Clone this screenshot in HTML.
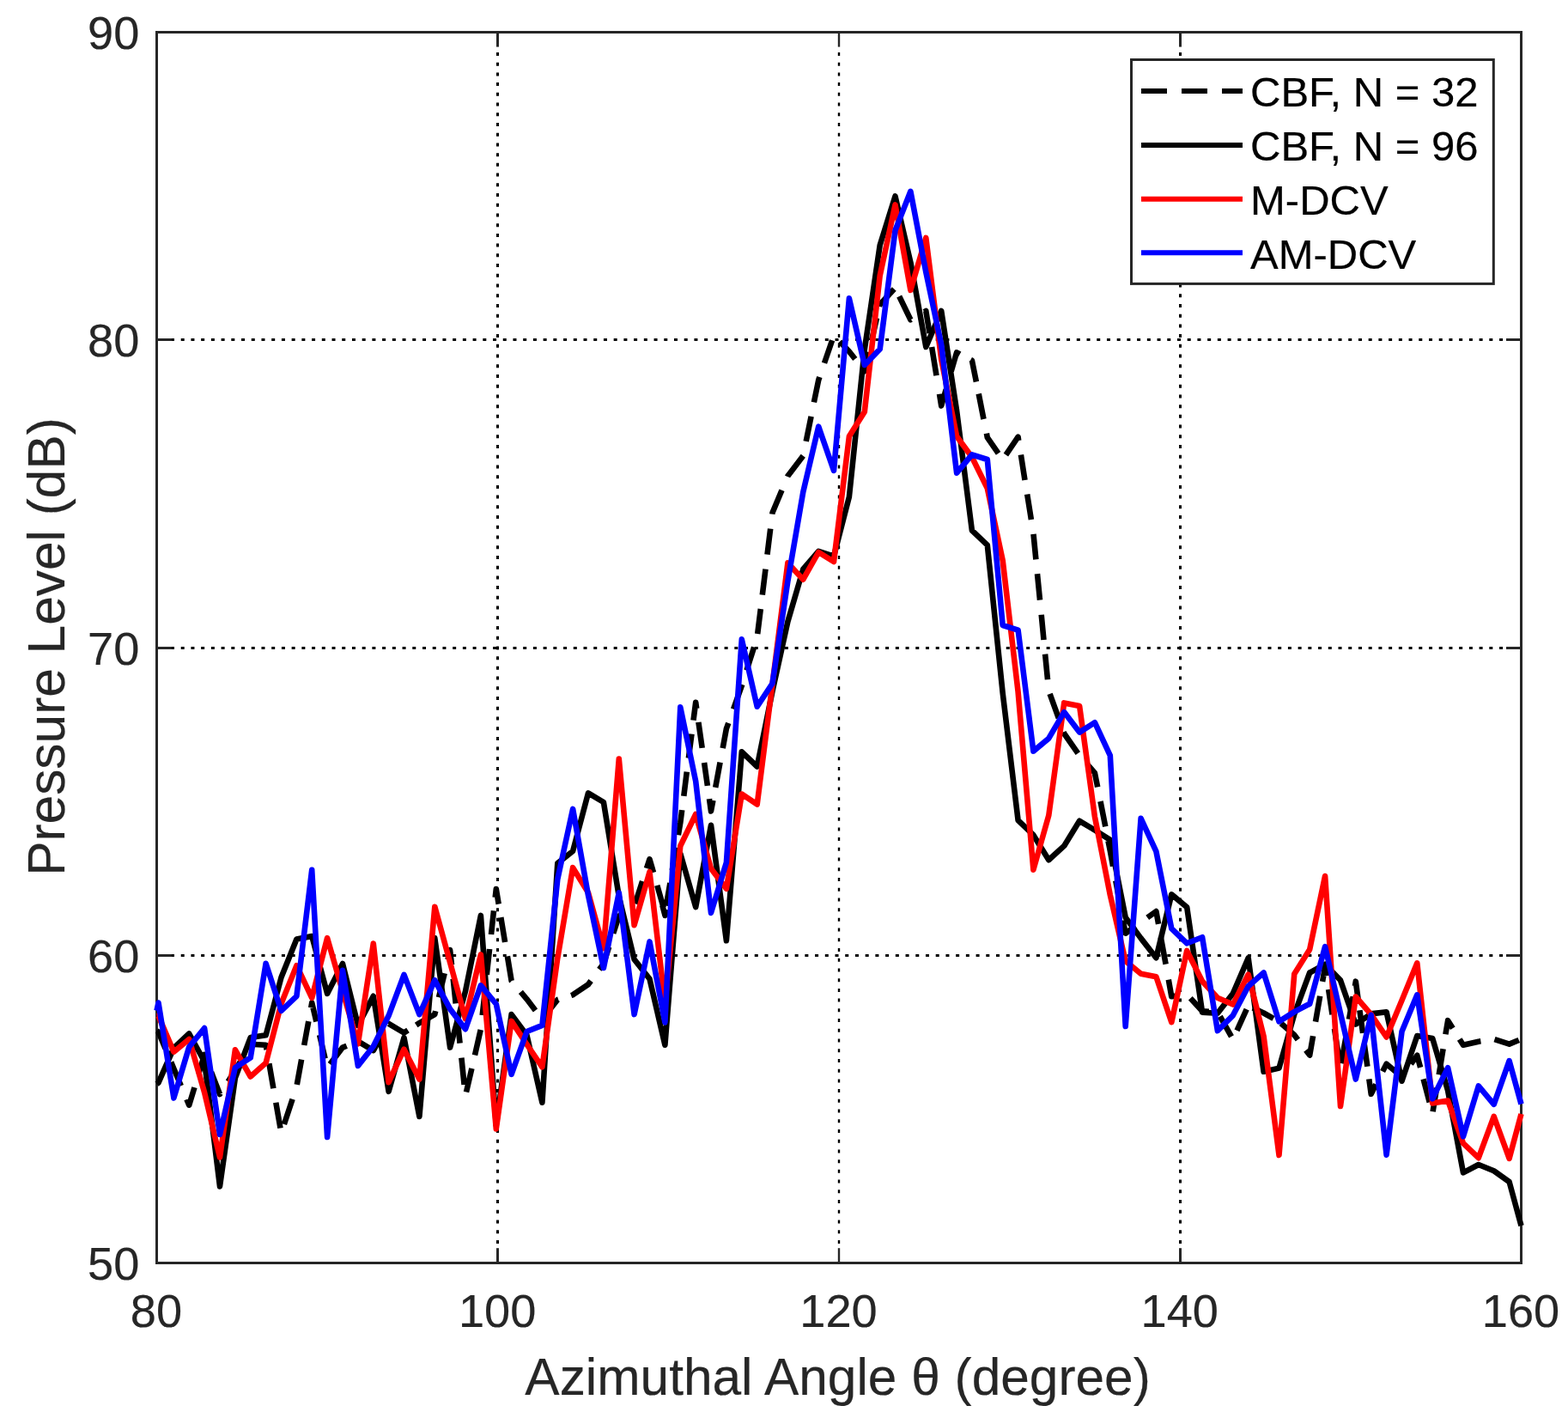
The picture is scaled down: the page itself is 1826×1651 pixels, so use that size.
<!DOCTYPE html>
<html lang="en"><head><meta charset="utf-8"><title>Pressure Level vs Azimuthal Angle</title>
<style>html,body{margin:0;padding:0;background:#fff;overflow:hidden}svg{display:block}text{font-family:"Liberation Sans",Arial,Helvetica,sans-serif;fill:#262626;stroke:#262626;stroke-width:0.2px}</style></head><body>
<svg width="1826" height="1651" viewBox="0 0 1826 1651">
<rect width="1826" height="1651" fill="#fff"/>
<defs><clipPath id="c"><rect x="182.5" y="37.5" width="1589.0" height="1433.0"/></clipPath></defs>
<g stroke="#000" fill="none">
<line x1="579.5" y1="1447.9" x2="579.5" y2="55" stroke-width="3" stroke-dasharray="4 7.72"/>
<line x1="977.0" y1="1447.9" x2="977.0" y2="55" stroke-width="2.4" stroke-dasharray="4 7.72"/>
<line x1="1374.5" y1="1447.9" x2="1374.5" y2="55" stroke-width="3" stroke-dasharray="4 7.72"/>
<line x1="199" y1="1112.5" x2="1755" y2="1112.5" stroke-width="3" stroke-dasharray="4 7.72"/>
<line x1="199" y1="754.5" x2="1755" y2="754.5" stroke-width="3" stroke-dasharray="4 7.72"/>
<line x1="199" y1="395.5" x2="1755" y2="395.5" stroke-width="3" stroke-dasharray="4 7.72"/>
</g>
<g stroke="#262626" fill="none" stroke-width="3">
<rect x="182.5" y="37.5" width="1589" height="1433"/>
<line x1="579.5" y1="1470.5" x2="579.5" y2="1453.2"/>
<line x1="579.5" y1="37.5" x2="579.5" y2="54.6"/>
<line x1="977.0" y1="1470.5" x2="977.0" y2="1453.2" stroke-width="2.4"/>
<line x1="977.0" y1="37.5" x2="977.0" y2="54.6" stroke-width="2.4"/>
<line x1="1374.5" y1="1470.5" x2="1374.5" y2="1453.2"/>
<line x1="1374.5" y1="37.5" x2="1374.5" y2="54.6"/>
<line x1="182.5" y1="1112.5" x2="200" y2="1112.5"/>
<line x1="1771.5" y1="1112.5" x2="1754" y2="1112.5"/>
<line x1="182.5" y1="754.5" x2="200" y2="754.5"/>
<line x1="1771.5" y1="754.5" x2="1754" y2="754.5"/>
<line x1="182.5" y1="395.5" x2="200" y2="395.5"/>
<line x1="1771.5" y1="395.5" x2="1754" y2="395.5"/>
</g>
<g fill="none" stroke-width="6.6" stroke-linejoin="round" stroke-linecap="butt">
<path stroke="#000" d="M182.5 1200.2 L184.5 1201.5 L192.6 1220.9 M199.2 1236.6 L202.4 1244.2 L210.8 1264.3 M217.4 1280.0 L220.2 1286.7 L226.5 1266.1 M231.3 1250.4 L238.1 1228.0 L240.1 1233.0 M246.0 1248.3 L256.0 1274.0 L256.7 1272.9 M265.6 1259.2 L273.9 1246.4 L280.7 1234.6 M289.0 1220.5 L291.7 1215.7 L309.6 1216.8 L310.6 1222.2 M313.4 1238.3 L318.4 1267.3 M321.3 1283.7 L326.5 1313.5 M330.9 1309.0 L340.6 1279.7 M345.8 1262.9 L351.1 1233.6 M354.2 1217.0 L359.3 1189.2 M362.2 1173.4 L363.2 1167.6 L368.4 1189.4 M372.1 1205.0 L378.6 1232.5 M384.3 1238.9 L399.0 1219.6 L403.7 1217.7 M418.9 1213.7 L434.8 1223.1 L442.3 1209.9 M452.2 1192.5 L452.6 1191.8 L470.5 1202.5 L475.0 1199.6 M484.7 1193.5 L488.4 1191.1 L506.3 1181.1 L507.2 1177.2 M511.0 1161.3 L517.7 1133.2 M521.5 1117.2 L524.1 1106.0 L526.0 1123.3 M527.7 1139.6 L530.7 1168.3 M532.4 1184.6 L535.6 1214.7 M537.4 1231.7 L540.6 1262.9 M543.0 1271.5 L549.4 1244.0 M553.0 1228.4 L559.7 1198.9 M561.7 1182.0 L565.0 1152.0 M566.8 1135.0 L570.1 1105.0 M572.0 1088.0 L575.0 1060.4 M576.7 1044.8 L577.8 1035.0 L580.7 1052.6 M583.3 1068.1 L588.1 1097.0 M590.9 1113.4 L595.6 1141.9 L595.8 1142.1 M606.4 1154.8 L613.5 1163.3 L623.5 1176.4 M632.9 1184.8 L649.3 1164.0 L650.2 1163.7 M665.1 1159.0 L667.1 1158.3 L685.0 1146.2 L688.1 1142.0 M697.9 1128.8 L702.9 1122.0 L709.2 1102.4 M714.2 1086.7 L720.8 1066.5 L727.3 1062.3 M739.6 1052.3 L748.1 1026.0 M753.0 1011.1 L756.5 1000.3 L761.0 1015.8 M765.3 1030.8 L772.7 1056.8 M775.8 1054.6 L780.4 1028.0 M782.8 1013.4 L787.4 986.8 M789.9 972.2 L792.3 958.0 L794.2 943.2 M796.3 926.8 L799.8 898.6 M801.9 882.7 L805.5 854.6 M807.5 838.6 L810.2 817.7 L811.2 825.0 M813.4 840.9 L817.7 870.9 M820.1 888.0 L823.9 914.9 M826.0 930.1 L828.0 944.5 L830.4 931.9 M833.2 916.8 L838.6 887.7 M841.7 871.2 L845.9 848.3 L848.3 841.8 M854.1 825.6 L863.8 798.5 L864.3 797.0 M869.5 780.6 L878.1 753.5 M882.2 738.0 L885.8 709.0 M887.8 692.6 L891.5 662.7 M893.5 645.7 L897.2 615.7 M899.3 598.6 L899.5 597.1 L910.5 570.8 M917.1 555.0 L917.4 554.3 L935.3 530.8 L935.3 530.8 M938.7 513.9 L944.6 484.9 M947.9 468.4 L953.2 442.6 L954.4 439.0 M960.0 422.8 L969.1 396.2 M977.9 397.8 L988.9 409.3 L995.8 418.0 M1004.2 428.8 L1006.8 432.1 L1011.9 409.9 M1015.0 396.6 L1021.0 370.3 M1024.1 356.9 L1024.7 354.5 L1041.3 336.6 M1047.2 345.0 L1060.4 372.3 L1061.0 371.9 M1076.3 363.2 L1078.3 362.0 L1082.5 388.0 M1085.1 404.0 L1090.5 437.2 M1094.0 458.8 L1096.2 472.4 L1101.7 453.4 M1107.7 432.3 L1114.1 410.4 L1117.8 412.4 M1130.4 418.9 L1131.9 419.7 L1136.9 444.5 M1139.7 458.5 L1145.5 488.0 M1148.9 504.7 L1149.8 509.4 L1162.6 527.8 M1171.4 529.6 L1185.6 508.7 L1186.2 513.0 M1188.9 529.5 L1193.5 558.9 M1196.2 575.6 L1200.9 605.1 M1203.5 621.9 L1206.4 651.4 M1208.0 668.1 L1211.0 698.6 M1212.7 715.8 L1215.5 745.0 M1217.1 761.6 L1220.0 791.2 M1222.6 807.8 L1232.8 836.2 M1238.5 852.2 L1239.2 854.0 L1255.3 877.1 M1266.4 890.1 L1274.9 899.8 L1278.2 916.4 M1281.5 933.0 L1287.3 962.4 M1290.5 979.1 L1292.8 990.7 L1296.1 1008.6 M1299.3 1025.3 L1304.7 1054.8 M1307.8 1071.5 L1310.7 1086.7 L1322.4 1078.3 M1336.2 1068.4 L1346.4 1061.1 L1349.1 1075.8 M1351.8 1091.1 L1357.6 1122.7 M1360.8 1140.7 L1364.3 1160.3 L1372.4 1159.2 M1386.3 1162.3 L1400.1 1177.3 L1407.8 1177.8 M1420.8 1183.3 L1434.0 1206.9 M1440.5 1199.8 L1451.7 1175.2 M1459.0 1173.5 L1471.6 1179.5 L1483.0 1185.8 M1491.8 1191.5 L1507.3 1205.1 L1511.4 1210.5 M1520.8 1222.8 L1525.2 1228.6 L1529.1 1206.3 M1532.0 1189.6 L1537.2 1159.8 M1540.1 1142.9 L1543.1 1125.6 L1544.7 1136.2 M1547.1 1152.1 L1551.5 1181.2 M1554.0 1197.8 L1559.0 1230.7 M1561.9 1238.2 L1567.8 1205.4 M1571.0 1186.8 L1575.7 1160.2 M1577.9 1148.1 L1578.8 1142.7 L1581.7 1164.0 M1583.4 1176.2 L1587.1 1202.9 M1588.7 1215.1 L1592.4 1241.8 M1594.3 1256.4 L1596.7 1273.7 L1602.4 1262.6 M1610.1 1247.5 L1614.6 1238.8 L1632.2 1253.5 M1643.1 1238.9 L1650.3 1228.8 L1654.1 1242.9 M1657.6 1256.4 L1664.7 1283.3 M1668.6 1294.3 L1673.1 1266.8 M1675.7 1251.2 L1680.6 1221.3 M1683.4 1204.3 L1686.1 1188.2 L1691.8 1197.3 M1699.7 1209.9 L1704.0 1216.7 L1721.8 1212.7 L1724.4 1212.3 M1740.5 1210.1 L1757.6 1215.6 L1768.8 1211.0 M771.3 1054.0 L774.5 1066.0 L776.2 1059.0"/>
<path stroke="#000" d="M182.5 1262.2 L184.5 1260.6 L202.4 1220.1 L220.2 1203.5 L238.1 1236.0 L256.0 1381.4 L273.9 1255.0 L291.7 1208.1 L309.6 1205.3 L327.5 1138.0 L345.4 1093.6 L363.2 1090.0 L381.1 1156.9 L399.0 1122.0 L416.9 1193.9 L434.8 1159.8 L452.6 1270.8 L470.5 1208.2 L488.4 1300.0 L506.3 1092.1 L524.1 1219.6 L542.0 1154.1 L559.9 1065.9 L577.8 1310.0 L595.6 1181.1 L613.5 1205.3 L631.4 1283.7 L649.3 1005.2 L667.1 991.0 L685.0 923.4 L702.9 934.0 L720.8 1043.7 L738.6 1117.0 L756.5 1139.8 L774.4 1216.7 L792.3 993.8 L810.2 1056.1 L828.0 960.8 L845.9 1095.3 L863.8 875.4 L881.7 892.5 L899.5 804.9 L917.4 723.8 L935.3 662.6 L953.2 641.9 L971.0 647.6 L988.9 578.5 L1006.8 407.0 L1024.7 285.4 L1042.5 228.5 L1060.4 305.4 L1078.3 404.0 L1096.2 362.0 L1114.1 478.1 L1131.9 617.6 L1149.8 634.7 L1167.7 807.0 L1185.6 955.1 L1203.4 972.2 L1221.3 1001.3 L1239.2 984.9 L1257.1 955.8 L1274.9 966.5 L1292.8 977.9 L1310.7 1068.2 L1328.6 1092.4 L1346.4 1115.2 L1364.3 1041.4 L1382.2 1056.3 L1400.1 1178.8 L1417.9 1179.8 L1435.8 1156.7 L1453.7 1115.4 L1471.6 1247.8 L1489.5 1243.6 L1507.3 1180.9 L1525.2 1132.5 L1543.1 1122.7 L1561.0 1141.3 L1578.8 1192.5 L1596.7 1180.4 L1614.6 1178.3 L1632.5 1258.7 L1650.3 1206.0 L1668.2 1208.9 L1686.1 1269.9 L1704.0 1365.3 L1721.8 1356.0 L1739.7 1363.2 L1757.6 1376.0 L1771.5 1427.2"/>
<path stroke="#f00" d="M182.5 1183.1 L184.5 1182.9 L202.4 1224.7 L220.2 1210.0 L238.1 1272.0 L256.0 1347.5 L273.9 1222.3 L291.7 1253.5 L309.6 1237.6 L327.5 1168.6 L345.4 1124.2 L363.2 1161.9 L381.1 1092.1 L399.0 1154.1 L416.9 1215.3 L434.8 1098.5 L452.6 1260.2 L470.5 1221.7 L488.4 1256.6 L506.3 1055.7 L524.1 1120.6 L542.0 1186.1 L559.9 1111.4 L577.8 1314.4 L595.6 1188.9 L613.5 1216.0 L631.4 1242.3 L649.3 1115.6 L667.1 1010.2 L685.0 1039.4 L702.9 1104.2 L720.8 883.5 L738.6 1077.1 L756.5 1015.2 L774.4 1167.6 L792.3 985.0 L810.2 948.0 L828.0 1011.3 L845.9 1034.8 L863.8 924.5 L881.7 936.6 L899.5 796.4 L917.4 655.4 L935.3 674.7 L953.2 643.0 L971.0 654.0 L988.9 508.1 L1006.8 479.6 L1024.7 321.0 L1042.5 238.4 L1060.4 337.8 L1078.3 276.9 L1096.2 418.3 L1114.1 508.0 L1131.9 532.2 L1149.8 568.5 L1167.7 652.5 L1185.6 805.6 L1203.4 1012.7 L1221.3 949.4 L1239.2 818.4 L1257.1 821.9 L1274.9 950.8 L1292.8 1042.0 L1310.7 1119.0 L1328.6 1133.7 L1346.4 1137.3 L1364.3 1190.2 L1382.2 1106.9 L1400.1 1142.5 L1417.9 1161.7 L1435.8 1169.5 L1453.7 1134.6 L1471.6 1206.5 L1489.5 1345.0 L1507.3 1133.9 L1525.2 1105.4 L1543.1 1020.0 L1561.0 1288.0 L1578.8 1160.5 L1596.7 1181.1 L1614.6 1207.5 L1632.5 1164.8 L1650.3 1121.3 L1668.2 1284.4 L1686.1 1281.5 L1704.0 1331.1 L1721.8 1348.2 L1739.7 1299.8 L1757.6 1348.9 L1771.5 1297.0"/>
<path stroke="#00f" d="M182.5 1176.7 L184.5 1167.5 L202.4 1278.4 L220.2 1219.0 L238.1 1197.1 L256.0 1320.9 L273.9 1243.1 L291.7 1231.6 L309.6 1121.8 L327.5 1176.8 L345.4 1159.8 L363.2 1012.8 L381.1 1324.0 L399.0 1129.9 L416.9 1240.9 L434.8 1218.2 L452.6 1182.6 L470.5 1134.9 L488.4 1181.1 L506.3 1141.3 L524.1 1174.7 L542.0 1198.2 L559.9 1147.4 L577.8 1169.0 L595.6 1250.9 L613.5 1201.0 L631.4 1193.9 L649.3 1023.7 L667.1 941.9 L685.0 1042.3 L702.9 1127.0 L720.8 1039.4 L738.6 1181.1 L756.5 1096.4 L774.4 1190.4 L792.3 823.4 L810.2 909.6 L828.0 1062.9 L845.9 1004.3 L863.8 744.4 L881.7 822.7 L899.5 795.7 L917.4 676.8 L935.3 572.8 L953.2 496.7 L971.0 547.9 L988.9 347.4 L1006.8 425.0 L1024.7 406.5 L1042.5 268.3 L1060.4 222.8 L1078.3 316.8 L1096.2 401.2 L1114.1 550.7 L1131.9 529.3 L1149.8 535.0 L1167.7 728.0 L1185.6 733.6 L1203.4 874.6 L1221.3 859.7 L1239.2 829.1 L1257.1 852.6 L1274.9 841.2 L1292.8 879.6 L1310.7 1195.0 L1328.6 952.9 L1346.4 991.3 L1364.3 1081.2 L1382.2 1098.3 L1400.1 1091.2 L1417.9 1200.1 L1435.8 1182.3 L1453.7 1148.2 L1471.6 1132.5 L1489.5 1189.4 L1507.3 1178.1 L1525.2 1168.8 L1543.1 1102.1 L1561.0 1179.7 L1578.8 1256.6 L1596.7 1181.8 L1614.6 1344.7 L1632.5 1201.1 L1650.3 1158.3 L1668.2 1279.2 L1686.1 1243.1 L1704.0 1323.3 L1721.8 1264.4 L1739.7 1285.8 L1757.6 1235.2 L1771.5 1285.5"/>
</g>
<g font-size="54.2" text-anchor="middle">
<text x="182.0" y="1544.8">80</text>
<text x="579.2" y="1544.8">100</text>
<text x="976.5" y="1544.8">120</text>
<text x="1373.8" y="1544.8">140</text>
<text x="1771.0" y="1544.8">160</text>
</g>
<g font-size="54.2" text-anchor="end">
<text x="162.3" y="1490.1">50</text>
<text x="162.3" y="1131.8">60</text>
<text x="162.3" y="773.6">70</text>
<text x="162.3" y="415.4">80</text>
<text x="162.3" y="57.1">90</text>
</g>
<text font-size="60.4" text-anchor="middle" x="975.6" y="1624.0">Azimuthal Angle θ (degree)</text>
<text font-size="60.4" text-anchor="middle" transform="translate(75.0 753.0) rotate(-90)">Pressure Level (dB)</text>
<rect x="1317.5" y="69.5" width="421.8" height="260.9" fill="#fff" stroke="#262626" stroke-width="3"/>
<g stroke-width="6" fill="none">
<line x1="1329" y1="106.0" x2="1447" y2="106.0" stroke="#000" stroke-dasharray="30 17"/>
<line x1="1329" y1="169.0" x2="1447" y2="169.0" stroke="#000"/>
<line x1="1329" y1="231.7" x2="1447" y2="231.7" stroke="#f00"/>
<line x1="1329" y1="294.3" x2="1447" y2="294.3" stroke="#00f"/>
</g>
<g font-size="49.0" style="fill:#000">
<text x="1456.0" y="124.4" style="fill:#000;stroke:#000">CBF, N = 32</text>
<text x="1456.0" y="187.4" style="fill:#000;stroke:#000">CBF, N = 96</text>
<text x="1456.0" y="250.1" style="fill:#000;stroke:#000">M-DCV</text>
<text x="1456.0" y="312.7" style="fill:#000;stroke:#000">AM-DCV</text>
</g>
</svg></body></html>
